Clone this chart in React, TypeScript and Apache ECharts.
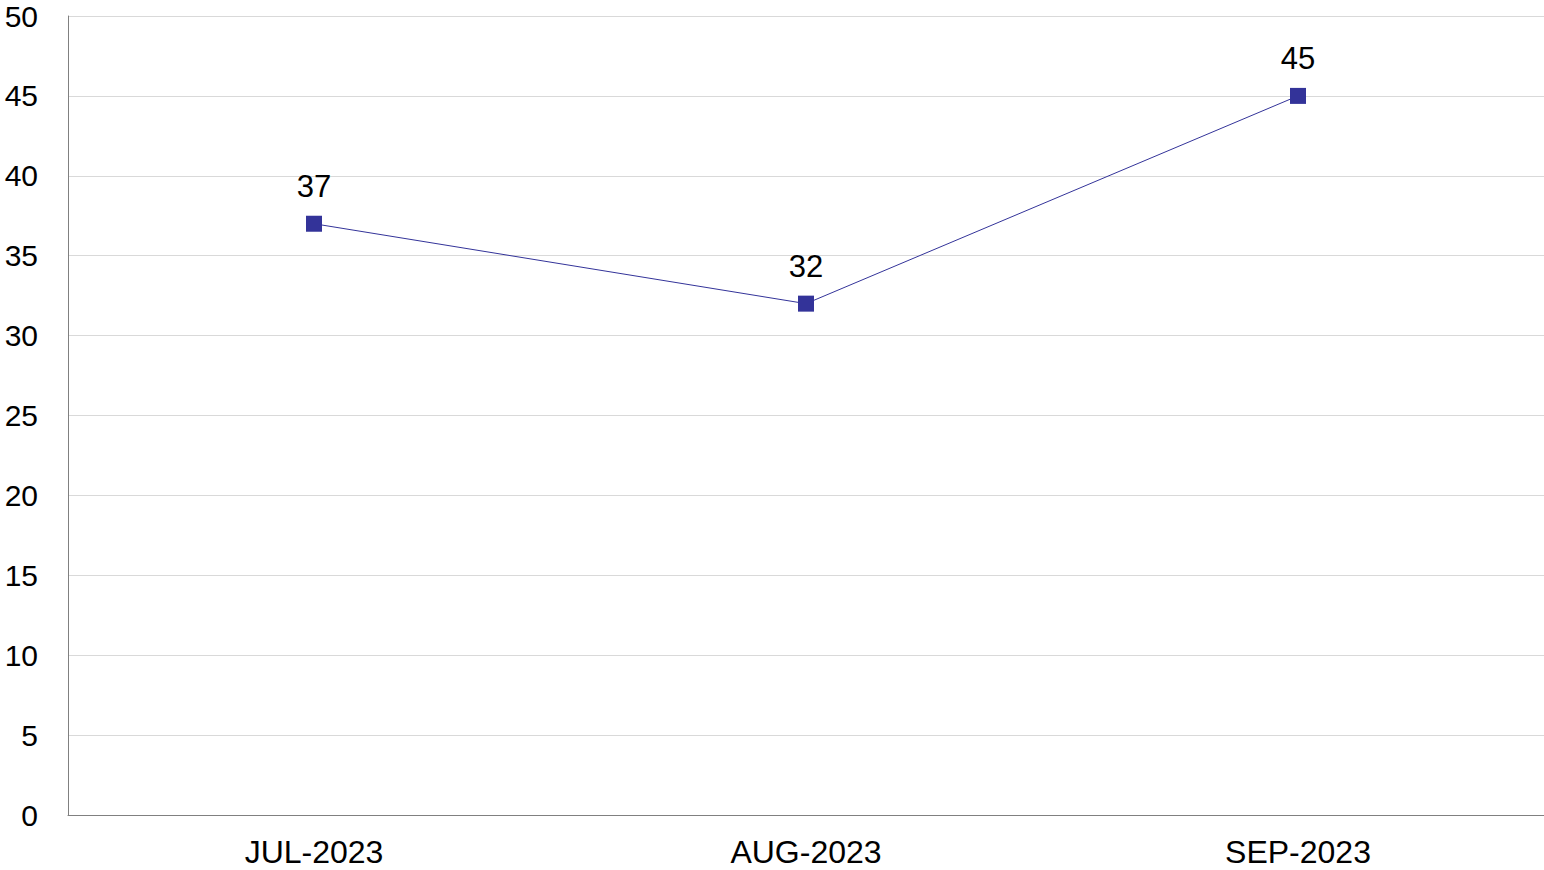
import React, { useEffect, useRef } from "react";
import * as echarts from "echarts";

const categories = ["JUL-2023", "AUG-2023", "SEP-2023"];
const values = [37, 32, 45];

const FONT = "Liberation Sans, Arial, sans-serif";

export default function App() {
  const ref = useRef<HTMLDivElement>(null);
  useEffect(() => {
    if (!ref.current) return;
    const chart = echarts.init(ref.current, null, { renderer: "svg" });
    chart.setOption({
      animation: false,
      backgroundColor: "#ffffff",
      grid: { left: 68, top: 16, right: 0, bottom: 55, containLabel: false },
      xAxis: {
        type: "category",
        data: categories,
        boundaryGap: true,
        axisLine: { lineStyle: { color: "#808080", width: 1 } },
        axisTick: { show: false },
        axisLabel: { color: "#000", fontSize: 32, fontFamily: FONT, margin: 21 },
        splitLine: { show: false },
      },
      yAxis: {
        type: "value",
        min: 0,
        max: 50,
        interval: 5,
        axisLine: { show: true, lineStyle: { color: "#808080", width: 1 } },
        axisTick: { show: false },
        axisLabel: { color: "#000", fontSize: 30, fontFamily: FONT, margin: 30 },
        splitLine: { show: true, lineStyle: { color: "#d9d9d9", width: 1 } },
      },
      series: [
        {
          type: "line",
          data: values,
          symbol: "rect",
          symbolSize: 16,
          itemStyle: { color: "#333399" },
          lineStyle: { color: "#333399", width: 1 },
          label: {
            show: true,
            position: "top",
            distance: 14,
            color: "#000",
            fontSize: 31,
            fontFamily: FONT,
          },
        },
      ],
    });
    return () => chart.dispose();
  }, []);
  return (
    <div
      ref={ref}
      style={{ position: "absolute", left: 0, top: 0, width: 1544, height: 870 }}
    />
  );
}
